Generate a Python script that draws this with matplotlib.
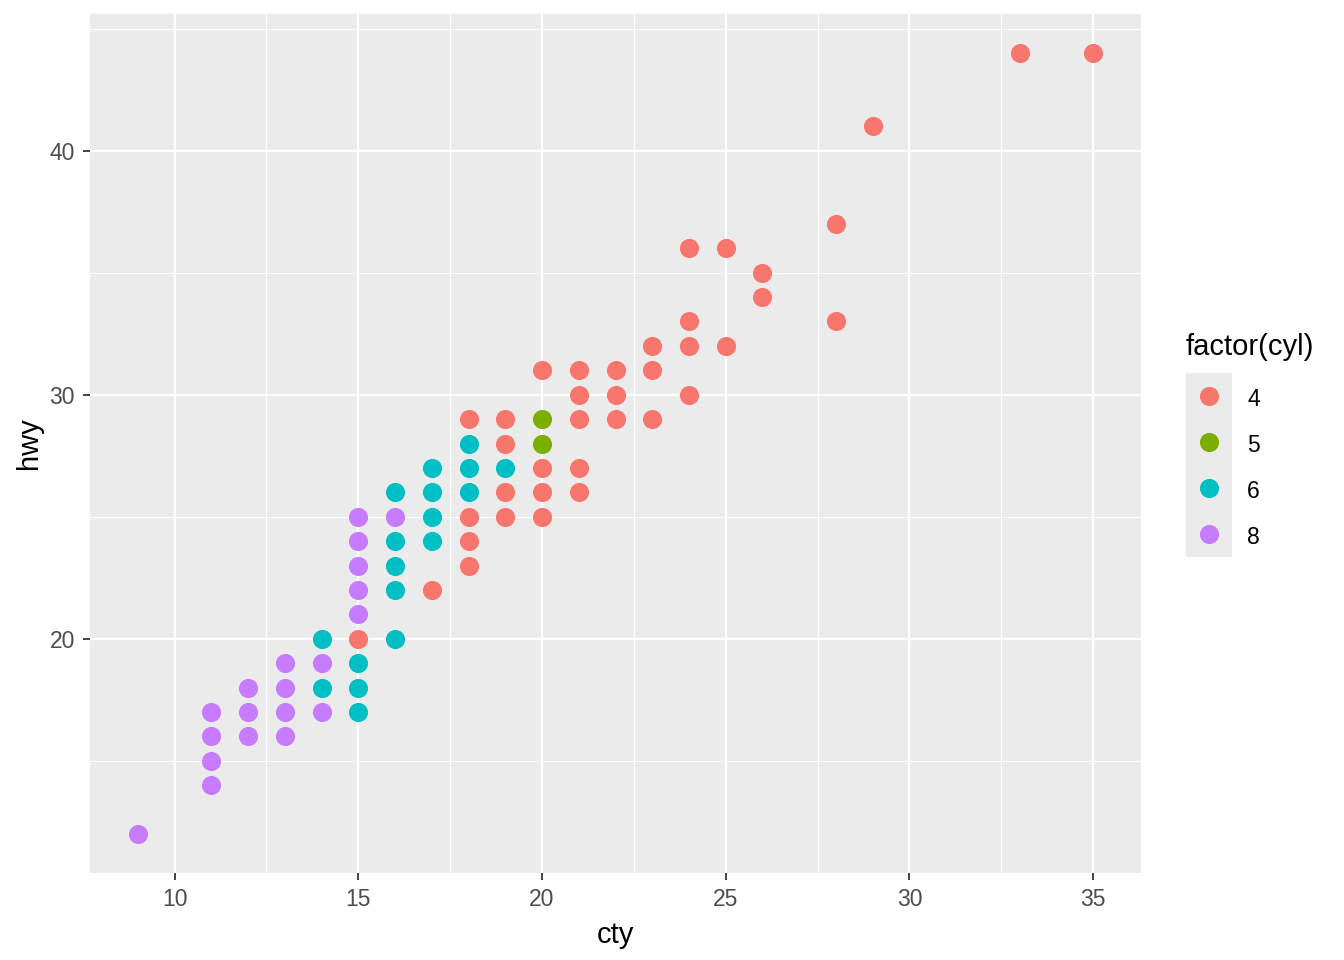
import matplotlib
matplotlib.use('Agg')
import matplotlib.pyplot as plt

plt.rcParams['font.family'] = ['Liberation Sans', 'DejaVu Sans']

# mpg: cty vs hwy, grouped by cylinders (distinct visible points)
cyl_levels = ['4', '5', '6', '8']
colors = ['#F8766D', '#7CAE00', '#00BFC4', '#C77CFF']

cty_4 = [15, 17, 18, 18, 18, 18, 19, 19, 19, 19, 20, 20, 20, 20, 21, 21, 21, 21, 21,
         22, 22, 22, 23, 23, 23, 24, 24, 24, 24, 25, 25, 26, 26, 28, 28, 29, 33, 35]
hwy_4 = [20, 22, 29, 25, 24, 23, 29, 28, 26, 25, 31, 27, 26, 25, 31, 30, 29, 27, 26,
         31, 30, 29, 32, 31, 29, 36, 33, 32, 30, 36, 32, 35, 34, 37, 33, 41, 44, 44]

cty_5 = [20, 20]
hwy_5 = [29, 28]

cty_6 = [14, 14, 15, 15, 15, 16, 16, 16, 16, 16, 17, 17, 17, 17, 18, 18, 18, 19]
hwy_6 = [20, 18, 19, 18, 17, 26, 24, 23, 22, 20, 27, 26, 25, 24, 28, 27, 26, 27]

cty_8 = [9, 11, 11, 11, 11, 12, 12, 12, 13, 13, 13, 13, 14, 14, 15, 15, 15, 15, 15, 16]
hwy_8 = [12, 17, 16, 15, 14, 18, 17, 16, 19, 18, 17, 16, 19, 17, 25, 24, 23, 22, 21, 25]

groups = [(cty_4, hwy_4), (cty_5, hwy_5), (cty_6, hwy_6), (cty_8, hwy_8)]

W, H = 1344, 960
fig = plt.figure(figsize=(W / 100, H / 100), dpi=100)
ax = fig.add_axes([90 / W, 1 - 873 / H, (1141 - 90) / W, (873 - 14) / H])
ax.set_facecolor('#EBEBEB')

for (x, y), c in zip(groups, colors):
    ax.scatter(x, y, s=190, color=c, linewidths=0, zorder=3)

ax.set_xlim(7.7, 36.3)
ax.set_ylim(10.4, 45.6)
ax.set_xticks([10, 15, 20, 25, 30, 35])
ax.set_yticks([20, 30, 40])
ax.set_xticks([12.5, 17.5, 22.5, 27.5, 32.5], minor=True)
ax.set_yticks([15, 25, 35, 45], minor=True)
ax.grid(which='major', color='white', linewidth=1.6, zorder=1)
ax.grid(which='minor', color='white', linewidth=0.8, zorder=1)
ax.set_axisbelow(True)
for s in ax.spines.values():
    s.set_visible(False)
ax.tick_params(which='major', length=5.3, width=1.3, color='#333333',
               labelsize=16.5, labelcolor='#4D4D4D')
ax.tick_params(axis='x', which='major', pad=5.5)
ax.tick_params(axis='y', which='major', pad=5.5)
ax.tick_params(which='minor', length=0)
ax.set_xlabel('cty', fontsize=21, labelpad=7)
ax.set_ylabel('hwy', fontsize=21, labelpad=5)

# legend
fig.text(1186 / W, 1 - 347 / H, 'factor(cyl)', fontsize=21, va='center', ha='left')
lax = fig.add_axes([1186 / W, 1 - 557 / H, 46 / W, 184 / H])
lax.set_xlim(0, 1)
lax.set_ylim(0, 4)
lax.axis('off')
lax.add_patch(plt.Rectangle((0, 0), 1, 4, color='#EBEBEB', zorder=0))
for i, (lab, c) in enumerate(zip(cyl_levels, colors)):
    yy = 3.5 - i
    lax.scatter([0.5], [yy], s=190, color=c, linewidths=0, zorder=3)
    fig.text(1247 / W, 1 - (399 + 46 * i) / H, lab, fontsize=16.5, va='center', ha='left')

fig.savefig('out.png', dpi=100)
